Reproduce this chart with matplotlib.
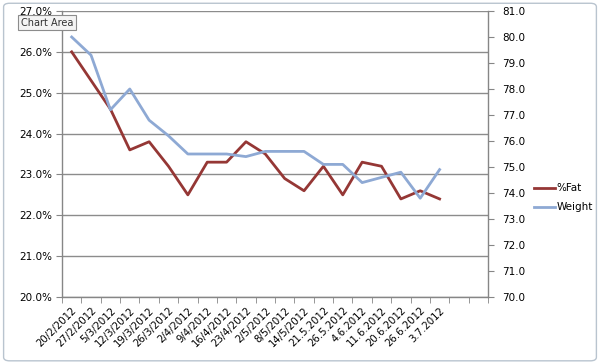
import matplotlib
matplotlib.use("Agg")
import matplotlib.pyplot as plt
from matplotlib.patches import FancyBboxPatch
import numpy as np

# ---------------------------------------------------------------------------
# Data
# ---------------------------------------------------------------------------
dates = ["20/2/2012", "27/2/2012", "5/3/2012", "12/3/2012", "19/3/2012",
         "26/3/2012", "2/4/2012", "9/4/2012", "16/4/2012", "23/4/2012",
         "2/5/2012", "8/5/2012", "14/5/2012", "21.5.2012", "26.5.2012",
         "4.6.2012", "11.6.2012", "20.6.2012", "26.6.2012", "3.7.2012"]
n_slots = 22   # two empty categories at the end of the axis

fat_pct = [26.0, 25.3, 24.6, 23.6, 23.8, 23.2, 22.5, 23.3, 23.3, 23.8,
           23.5, 22.9, 22.6, 23.2, 22.5, 23.3, 23.2, 22.4, 22.6, 22.4]
weight = [80.0, 79.3, 77.2, 78.0, 76.8, 76.2, 75.5, 75.5, 75.5, 75.4,
          75.6, 75.6, 75.6, 75.1, 75.1, 74.4, 74.6, 74.8, 73.8, 74.9]

FAT_COLOR = "#953735"
WEIGHT_COLOR = "#8EA9D4"
AXIS_GRAY = "#868686"

# ---------------------------------------------------------------------------
# Figure
# ---------------------------------------------------------------------------
fig = plt.figure(figsize=(6.0, 3.63), dpi=100)
ax = fig.add_axes([62 / 600, 1 - 297 / 363, 426 / 600, 286 / 363])
ax2 = ax.twinx()

x = np.arange(len(dates))
l1, = ax.plot(x, fat_pct, color=FAT_COLOR, lw=2.0, label="%Fat", zorder=3)
l2, = ax2.plot(x, weight, color=WEIGHT_COLOR, lw=2.0, label="Weight", zorder=3)

ax.set_xlim(-0.5, n_slots - 0.5)
ax.set_ylim(20, 27)
ax2.set_ylim(70, 81)

# left axis: percentages with gridlines
ax.set_yticks(np.arange(20, 27.1, 1))
ax.set_yticklabels([f"{v:.1f}%" for v in np.arange(20, 27.1, 1)])
ax.grid(axis="y", color="#8c8c8c", lw=1.0)
ax.set_axisbelow(True)

# right axis
ax2.set_yticks(np.arange(70, 81.1, 1))
ax2.set_yticklabels([f"{v:.1f}" for v in np.arange(70, 81.1, 1)])

# x axis: labels at category centres, tick marks between categories
ax.set_xticks(x)
ax.set_xticklabels(dates, rotation=45, ha="right", rotation_mode="anchor")
ax.set_xticks(np.arange(-0.5, n_slots, 1), minor=True)
ax.tick_params(axis="x", which="major", length=0, pad=6, labelsize=7.3)
ax.tick_params(axis="x", which="minor", length=4, color=AXIS_GRAY, direction="out")
ax.tick_params(axis="y", length=4, color=AXIS_GRAY, labelsize=7.5, pad=3)
ax2.tick_params(axis="y", length=4, color=AXIS_GRAY, labelsize=7.5, pad=6)

for a in (ax, ax2):
    a.spines["top"].set_visible(False)
    for s in ("left", "right", "bottom"):
        a.spines[s].set_color(AXIS_GRAY)
        a.spines[s].set_linewidth(1.0)
ax.spines["right"].set_visible(False)
ax2.spines["left"].set_visible(False)
ax2.spines["bottom"].set_visible(False)

# legend on the right
fig.legend([l1, l2], ["%Fat", "Weight"], loc="center left",
           bbox_to_anchor=(0.875, 0.455), frameon=False, fontsize=7.5,
           handlelength=2.0, handletextpad=0.1, labelspacing=0.85)

# chart area border and the Excel "Chart Area" tooltip
border = FancyBboxPatch((0.006, 0.006), 0.988, 0.985,
                        boxstyle="round,pad=0,rounding_size=0.01",
                        transform=fig.transFigure, fill=False,
                        ec="#b9c4cf", lw=1.0)
fig.patches.append(border)
fig.text(0.078, 0.938, "Chart Area", fontsize=7, color="#333333",
         va="center", ha="center",
         bbox=dict(boxstyle="square,pad=0.3", fc="#f4f4f4", ec="#8c8c8c", lw=0.8))

fig.savefig("out.png", dpi=100)
